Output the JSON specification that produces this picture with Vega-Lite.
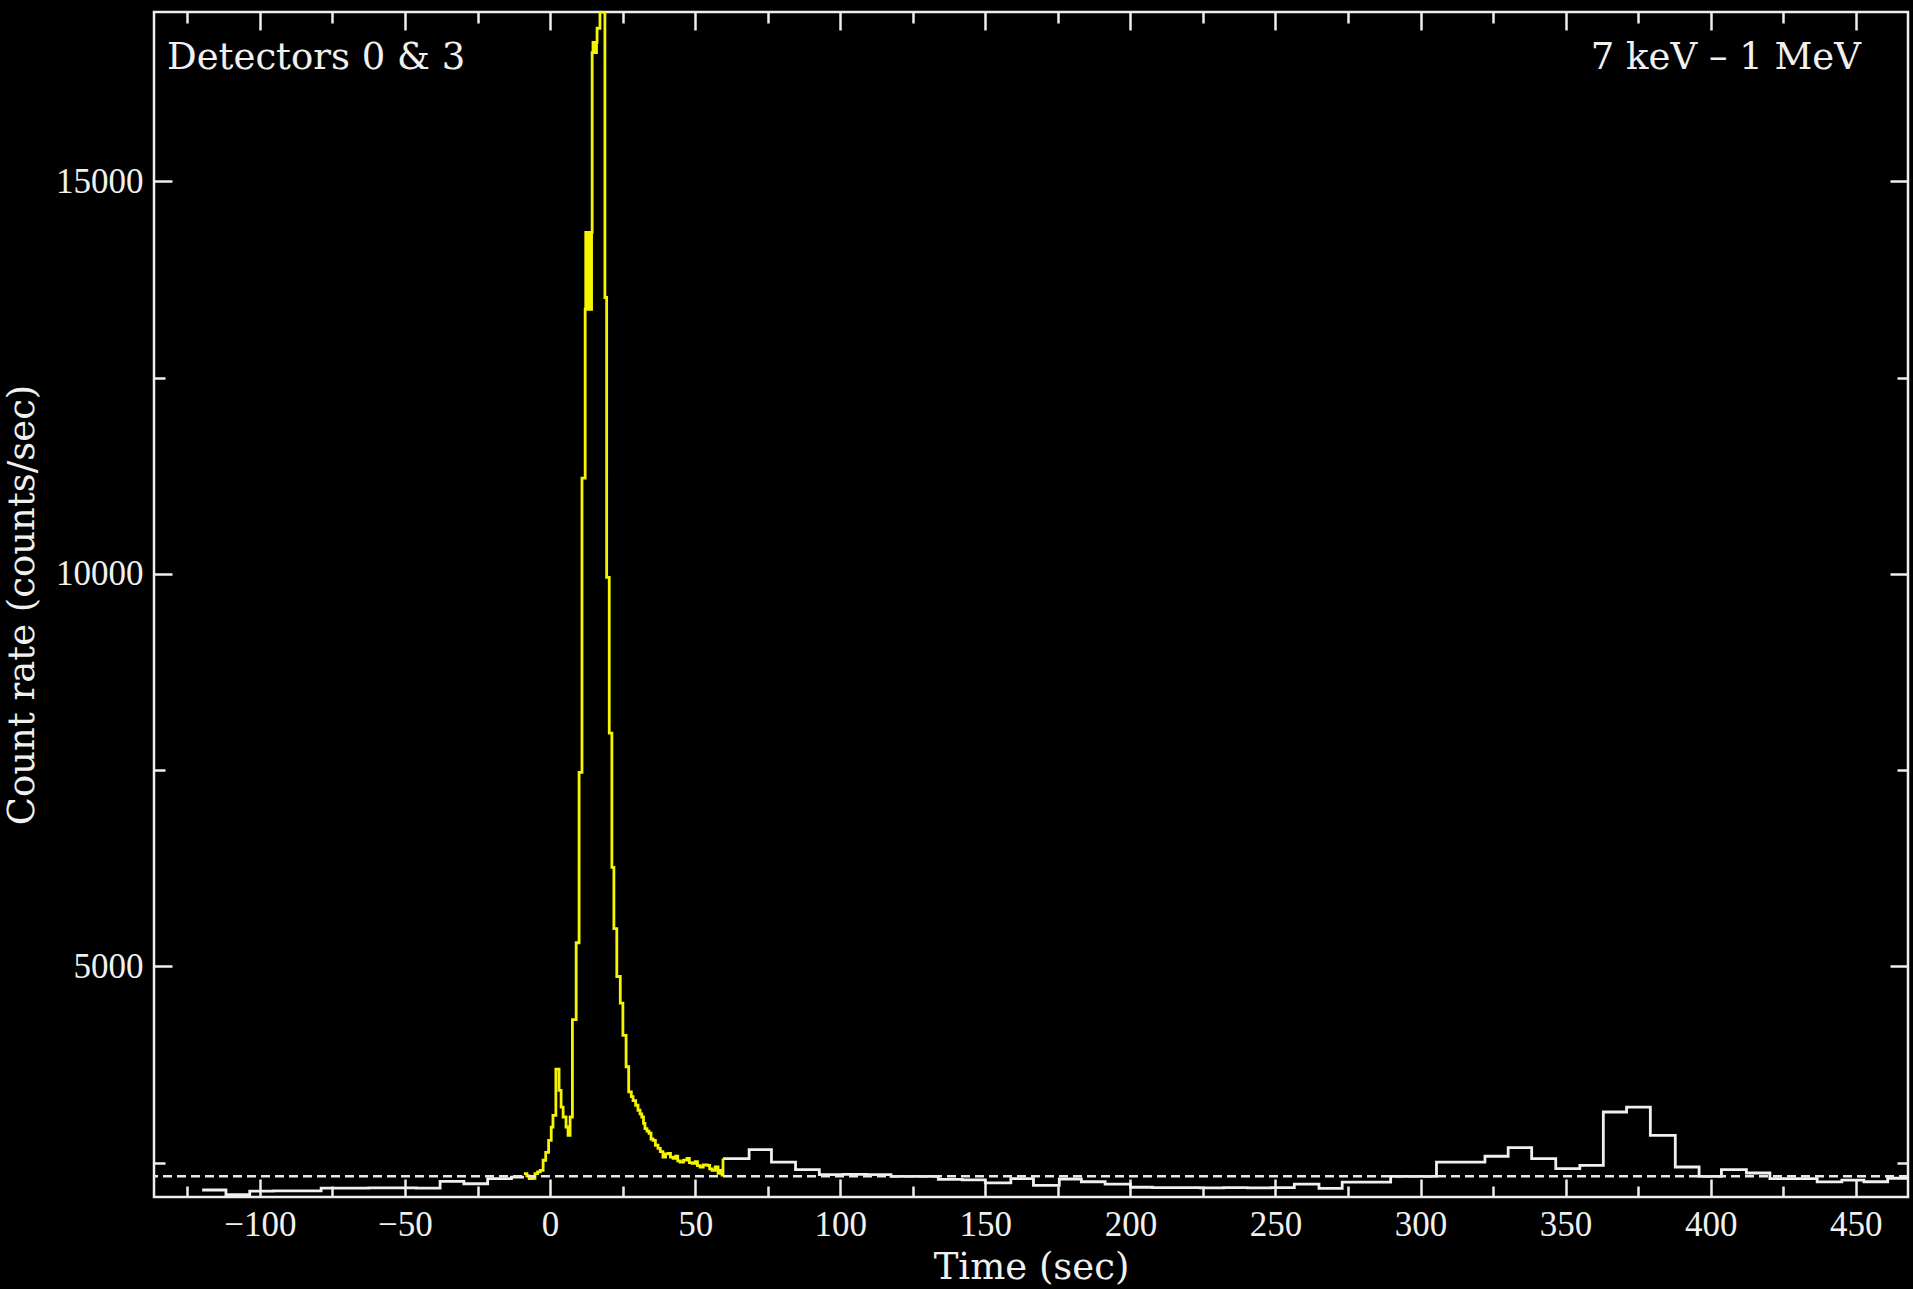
{
  "$schema": "https://vega.github.io/schema/vega-lite/v6.json",
  "width": 1754,
  "height": 1185,
  "autosize": {"type": "none"},
  "padding": {"left": 154, "top": 12, "right": 5, "bottom": 92},
  "background": "#000000",
  "config": {
    "view": {"stroke": "#eeeeee", "strokeWidth": 2.5},
    "axis": {"grid": false, "domain": false, "tickColor": "#eeeeee", "tickWidth": 2.5, "labelOverlap": false, "labelBound": false, "labelFlush": false}
  },
  "datasets": {
    "white": [
      {"t": -119.9, "rate": 2150, "seg": "a"},
      {"t": -111.7, "rate": 2090, "seg": "a"},
      {"t": -103.5, "rate": 2135, "seg": "a"},
      {"t": -95.3, "rate": 2140, "seg": "a"},
      {"t": -87.1, "rate": 2140, "seg": "a"},
      {"t": -78.9, "rate": 2175, "seg": "a"},
      {"t": -70.7, "rate": 2175, "seg": "a"},
      {"t": -62.5, "rate": 2178, "seg": "a"},
      {"t": -54.3, "rate": 2178, "seg": "a"},
      {"t": -46.1, "rate": 2175, "seg": "a"},
      {"t": -37.9, "rate": 2260, "seg": "a"},
      {"t": -29.7, "rate": 2230, "seg": "a"},
      {"t": -21.5, "rate": 2295, "seg": "a"},
      {"t": -13.3, "rate": 2315, "seg": "a"},
      {"t": -9.0, "rate": 2315, "seg": "a"},
      {"t": 59.6, "rate": 2550, "seg": "b"},
      {"t": 68.6, "rate": 2665, "seg": "b"},
      {"t": 76.3, "rate": 2505, "seg": "b"},
      {"t": 84.6, "rate": 2410, "seg": "b"},
      {"t": 92.8, "rate": 2345, "seg": "b"},
      {"t": 101.0, "rate": 2350, "seg": "b"},
      {"t": 109.2, "rate": 2345, "seg": "b"},
      {"t": 117.5, "rate": 2325, "seg": "b"},
      {"t": 125.6, "rate": 2325, "seg": "b"},
      {"t": 133.8, "rate": 2285, "seg": "b"},
      {"t": 142.0, "rate": 2280, "seg": "b"},
      {"t": 150.0, "rate": 2240, "seg": "b"},
      {"t": 158.8, "rate": 2295, "seg": "b"},
      {"t": 166.6, "rate": 2210, "seg": "b"},
      {"t": 175.5, "rate": 2290, "seg": "b"},
      {"t": 183.1, "rate": 2255, "seg": "b"},
      {"t": 191.3, "rate": 2225, "seg": "b"},
      {"t": 200.0, "rate": 2185, "seg": "b"},
      {"t": 207.6, "rate": 2180, "seg": "b"},
      {"t": 215.8, "rate": 2180, "seg": "b"},
      {"t": 224.0, "rate": 2178, "seg": "b"},
      {"t": 232.2, "rate": 2180, "seg": "b"},
      {"t": 240.3, "rate": 2178, "seg": "b"},
      {"t": 248.5, "rate": 2180, "seg": "b"},
      {"t": 256.5, "rate": 2225, "seg": "b"},
      {"t": 265.0, "rate": 2170, "seg": "b"},
      {"t": 273.0, "rate": 2250, "seg": "b"},
      {"t": 281.3, "rate": 2250, "seg": "b"},
      {"t": 289.7, "rate": 2325, "seg": "b"},
      {"t": 297.5, "rate": 2325, "seg": "b"},
      {"t": 305.5, "rate": 2505, "seg": "b"},
      {"t": 314.0, "rate": 2505, "seg": "b"},
      {"t": 322.2, "rate": 2580, "seg": "b"},
      {"t": 330.2, "rate": 2690, "seg": "b"},
      {"t": 338.3, "rate": 2550, "seg": "b"},
      {"t": 346.6, "rate": 2423, "seg": "b"},
      {"t": 354.9, "rate": 2465, "seg": "b"},
      {"t": 363.0, "rate": 3144, "seg": "b"},
      {"t": 371.0, "rate": 3207, "seg": "b"},
      {"t": 379.2, "rate": 2847, "seg": "b"},
      {"t": 387.8, "rate": 2443, "seg": "b"},
      {"t": 396.0, "rate": 2325, "seg": "b"},
      {"t": 403.7, "rate": 2410, "seg": "b"},
      {"t": 412.3, "rate": 2367, "seg": "b"},
      {"t": 420.4, "rate": 2296, "seg": "b"},
      {"t": 428.5, "rate": 2296, "seg": "b"},
      {"t": 436.7, "rate": 2253, "seg": "b"},
      {"t": 445.2, "rate": 2275, "seg": "b"},
      {"t": 452.8, "rate": 2255, "seg": "b"},
      {"t": 461.0, "rate": 2300, "seg": "b"},
      {"t": 468.0, "rate": 2300, "seg": "b"}
    ],
    "yellow": [
      {"t": -9.0, "rate": 2360}, {"t": -8.0, "rate": 2330}, {"t": -7.2, "rate": 2296}, {"t": -6.0, "rate": 2300},
      {"t": -5.2, "rate": 2360}, {"t": -4.3, "rate": 2380}, {"t": -3.4, "rate": 2401}, {"t": -2.4, "rate": 2529},
      {"t": -1.5, "rate": 2630}, {"t": -0.5, "rate": 2783}, {"t": 0.4, "rate": 2950}, {"t": 1.0, "rate": 3100},
      {"t": 2.0, "rate": 3690}, {"t": 3.1, "rate": 3420}, {"t": 3.8, "rate": 3207}, {"t": 4.5, "rate": 3080},
      {"t": 5.5, "rate": 2953}, {"t": 6.2, "rate": 2847}, {"t": 6.9, "rate": 3080}, {"t": 7.7, "rate": 4320},
      {"t": 9.0, "rate": 5300}, {"t": 10.0, "rate": 7470}, {"t": 11.0, "rate": 11220},
      {"t": 12.1, "rate": 13370}, {"t": 12.3, "rate": 14350}, {"t": 12.5, "rate": 13370}, {"t": 12.7, "rate": 14350},
      {"t": 12.9, "rate": 13370}, {"t": 13.1, "rate": 14350}, {"t": 13.3, "rate": 13370}, {"t": 13.5, "rate": 14350},
      {"t": 13.7, "rate": 13370}, {"t": 13.9, "rate": 14350}, {"t": 14.1, "rate": 13370}, {"t": 14.3, "rate": 14350},
      {"t": 14.5, "rate": 16640}, {"t": 14.8, "rate": 16770}, {"t": 15.1, "rate": 16640}, {"t": 15.4, "rate": 16770},
      {"t": 15.7, "rate": 16640}, {"t": 16.0, "rate": 16770}, {"t": 16.2, "rate": 16950}, {"t": 17.2, "rate": 17157},
      {"t": 18.9, "rate": 13520}, {"t": 19.5, "rate": 9955}, {"t": 20.4, "rate": 7970}, {"t": 21.3, "rate": 6260},
      {"t": 22.0, "rate": 5480}, {"t": 23.0, "rate": 4870}, {"t": 24.2, "rate": 4530}, {"t": 25.1, "rate": 4120},
      {"t": 26.2, "rate": 3720}, {"t": 27.1, "rate": 3400}, {"t": 28.0, "rate": 3340}, {"t": 28.6, "rate": 3290},
      {"t": 29.5, "rate": 3230}, {"t": 30.3, "rate": 3166}, {"t": 31.0, "rate": 3120}, {"t": 31.6, "rate": 3080},
      {"t": 32.2, "rate": 3000}, {"t": 32.7, "rate": 2933}, {"t": 33.4, "rate": 2900}, {"t": 34.1, "rate": 2873},
      {"t": 34.8, "rate": 2800}, {"t": 35.5, "rate": 2783}, {"t": 36.3, "rate": 2720}, {"t": 37.2, "rate": 2681},
      {"t": 38.0, "rate": 2640}, {"t": 38.9, "rate": 2570}, {"t": 39.8, "rate": 2610}, {"t": 40.7, "rate": 2618},
      {"t": 41.5, "rate": 2570}, {"t": 42.4, "rate": 2554}, {"t": 43.3, "rate": 2580}, {"t": 44.0, "rate": 2520},
      {"t": 44.8, "rate": 2507}, {"t": 46.0, "rate": 2530}, {"t": 47.2, "rate": 2554}, {"t": 48.0, "rate": 2500},
      {"t": 48.9, "rate": 2490}, {"t": 50.0, "rate": 2510}, {"t": 50.8, "rate": 2460}, {"t": 51.7, "rate": 2443},
      {"t": 52.8, "rate": 2470}, {"t": 54.1, "rate": 2465}, {"t": 55.0, "rate": 2420}, {"t": 55.8, "rate": 2401},
      {"t": 56.9, "rate": 2443}, {"t": 57.9, "rate": 2363}, {"t": 58.8, "rate": 2400}, {"t": 59.3, "rate": 2340},
      {"t": 59.6, "rate": 2550}
    ]
  },
  "resolve": {"axis": {"x": "independent", "y": "independent"}, "scale": {"x": "shared", "y": "shared"}},
  "layer": [
    {
      "data": {"name": "white"},
      "mark": {"type": "line", "interpolate": "step-after", "color": "#f0f0f0", "strokeWidth": 2.8, "clip": true},
      "encoding": {
        "x": {"field": "t", "type": "quantitative", "scale": {"domain": [-136.5, 468], "nice": false, "zero": false},
          "axis": {"orient": "bottom", "values": [-100, -50, 0, 50, 100, 150, 200, 250, 300, 350, 400, 450], "tickSize": -18, "format": "d",
            "labelFont": "Liberation Serif", "labelFontSize": 35, "labelColor": "#f0f0f0", "labelPadding": 28,
            "title": "Time (sec)", "titleFont": "DejaVu Serif", "titleFontSize": 37, "titleFontWeight": "normal", "titleColor": "#f0f0f0", "titlePadding": 7}},
        "y": {"field": "rate", "type": "quantitative", "scale": {"domain": [2061, 17157], "nice": false, "zero": false},
          "axis": {"orient": "left", "values": [5000, 10000, 15000], "tickSize": -18, "format": "d",
            "labelFont": "Liberation Serif", "labelFontSize": 35, "labelColor": "#f0f0f0", "labelPadding": 29,
            "title": "Count rate (counts/sec)", "titleFont": "DejaVu Serif", "titleFontSize": 37, "titleFontWeight": "normal", "titleColor": "#f0f0f0", "titlePadding": 14}},
        "detail": {"field": "seg", "type": "nominal"}
      }
    },
    {
      "data": {"name": "yellow"},
      "mark": {"type": "line", "interpolate": "step-after", "color": "#f5f500", "strokeWidth": 2.8, "clip": true},
      "encoding": {
        "x": {"field": "t", "type": "quantitative", "scale": {"domain": [-136.5, 468], "nice": false, "zero": false},
          "axis": {"orient": "top", "values": [-100, -50, 0, 50, 100, 150, 200, 250, 300, 350, 400, 450], "tickSize": -18, "labels": false, "title": null}},
        "y": {"field": "rate", "type": "quantitative", "scale": {"domain": [2061, 17157], "nice": false, "zero": false},
          "axis": {"orient": "right", "values": [5000, 10000, 15000], "tickSize": -18, "labels": false, "title": null}}
      }
    },
    {
      "data": {"values": [{"level": 2325}]},
      "mark": {"type": "rule", "color": "#e8e8e8", "strokeWidth": 2.5, "strokeDash": [9, 5]},
      "encoding": {
        "y": {"field": "level", "type": "quantitative", "axis": null}
      }
    },
    {
      "data": {"values": [{"label": "Detectors 0 & 3"}]},
      "mark": {"type": "text", "align": "left", "baseline": "middle", "font": "DejaVu Serif", "fontSize": 37, "color": "#f0f0f0"},
      "encoding": {
        "text": {"field": "label", "type": "nominal"},
        "x": {"datum": -132, "type": "quantitative",
          "axis": {"orient": "bottom", "values": [-125, -75, -25, 25, 75, 125, 175, 225, 275, 325, 375, 425], "tickSize": -11, "labels": false, "title": null}},
        "y": {"datum": 16570, "type": "quantitative",
          "axis": {"orient": "left", "values": [2500, 7500, 12500], "tickSize": -11, "labels": false, "title": null}}
      }
    },
    {
      "data": {"values": [{"label": "7 keV – 1 MeV"}]},
      "mark": {"type": "text", "align": "right", "baseline": "middle", "font": "DejaVu Serif", "fontSize": 37, "color": "#f0f0f0"},
      "encoding": {
        "text": {"field": "label", "type": "nominal"},
        "x": {"datum": 451.8, "type": "quantitative",
          "axis": {"orient": "top", "values": [-125, -75, -25, 25, 75, 125, 175, 225, 275, 325, 375, 425], "tickSize": -11, "labels": false, "title": null}},
        "y": {"datum": 16570, "type": "quantitative",
          "axis": {"orient": "right", "values": [2500, 7500, 12500], "tickSize": -11, "labels": false, "title": null}}
      }
    }
  ]
}
